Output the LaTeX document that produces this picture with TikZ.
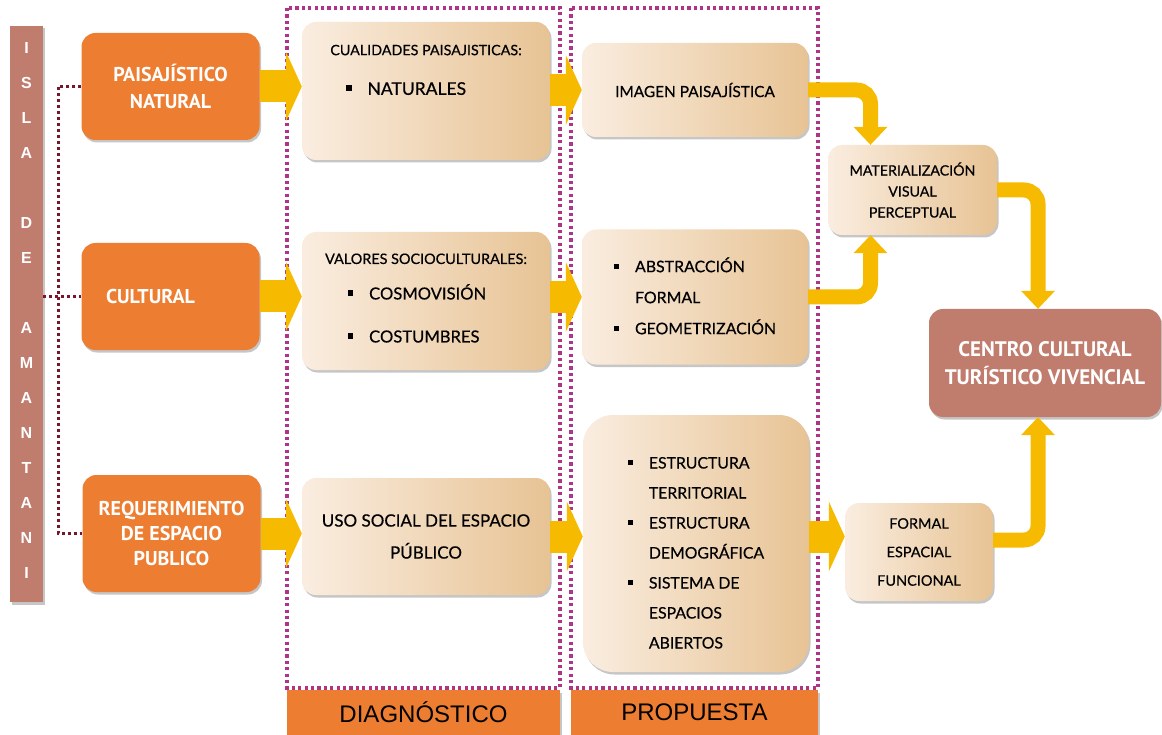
\documentclass[tikz,border=0pt]{standalone}
\usepackage{fontspec}
\setmainfont{Lato}[FakeBold=0.5]
\newfontfamily\gruesa{PT Sans}
\newfontfamily\rotulo{Liberation Sans}
\usetikzlibrary{arrows.meta,shadows}
\definecolor{naranja}{RGB}{237,125,49}
\definecolor{terracota}{RGB}{192,124,108}
\definecolor{beigeL}{RGB}{250,237,224}
\definecolor{beigeR}{RGB}{231,195,148}
\definecolor{oro}{RGB}{246,186,0}
\definecolor{marcocol}{RGB}{176,52,134}
\definecolor{vino}{RGB}{122,22,44}
\newcommand{\cuadro}{\rule[0.22em]{0.32em}{0.32em}}
\begin{document}
\begin{tikzpicture}[x=1pt,y=-1pt,
        sombra/.style={drop shadow={shadow xshift=1.5pt,shadow yshift=-2.5pt,opacity=0.45}},
        caja/.style={rectangle,rounded corners=14pt,left color=beigeL,right color=beigeR,
          sombra,inner sep=0pt,align=center,text=black},
        tema/.style={rectangle,rounded corners=14pt,fill=naranja,sombra,inner sep=0pt,
          align=center,text=white,minimum width=178pt,
          font=\gruesa\bfseries\fontsize{20}{27}\selectfont},
        etiqueta/.style={rectangle,fill=naranja,sombra,inner sep=0pt,text=black,
          font=\rotulo\fontsize{24}{28}\selectfont},
        letra/.style={text=white,font=\rotulo\bfseries\fontsize{16}{18}\selectfont},
        marco/.style={draw=marcocol,line width=3.2pt,dash pattern=on 3.2pt off 3.2pt},
        enlace/.style={draw=vino,line width=3pt,dash pattern=on 3pt off 3pt},
        flecha/.style={draw=oro,line width=32pt,-{Triangle[width=70pt,length=16pt,line width=0pt]}},
        codo/.style={draw=oro,line width=15pt,rounded corners=14pt,
          -{Triangle[width=34pt,length=18pt,line width=0pt]}}]
  \useasboundingbox (0,0) rectangle (1162,735);

  \draw[marco] (287,8) rectangle (560,688);
  \draw[marco] (571,8) rectangle (818,688);
  \node[etiqueta,minimum width=273pt,minimum height=45pt] (diag) at (423.5,712.5) {DIAGNÓSTICO};
  \node[etiqueta,minimum width=247pt,minimum height=45pt] (prop) at (694.5,712.5) {PROPUESTA};

  \node[rectangle,fill=terracota,sombra,minimum width=33pt,minimum height=576pt,inner sep=0pt]
    (isla) at (26.5,314) {};
  \foreach \ch [count=\i] in {I,S,L,A,{},D,E,{},A,M,A,N,T,A,N,I}
    \node[letra] (l\i) at (26.5,{48+(\i-1)*35}) {\ch};

  \node[tema,minimum height=107pt] (paisaj) at (170.5,86.5) {PAISAJÍSTICO\\NATURAL};
  \node[tema,minimum height=107pt] (cultural) at (170.5,296.5) {CULTURAL\hspace*{40pt}};
  \node[tema,minimum height=117pt,font=\gruesa\bfseries\fontsize{20}{25}\selectfont]
    (reqesp) at (171.5,533.5) {REQUERIMIENTO\\DE ESPACIO\\PUBLICO};

  \coordinate (junta) at (58,297);
  \draw[enlace] (isla.east |- cultural.west) -- (cultural.west);
  \draw[enlace] (paisaj.west) -| (junta) |- (reqesp.west);

  \node[caja,minimum width=248pt,minimum height=138pt,font=\fontsize{17.5}{20}\selectfont]
    (cualid) at (426,91)
    {{\fontsize{14.3}{17}\selectfont CUALIDADES PAISAJISTICAS:}\\[20pt]
     \begin{tabular}{@{}l@{\hspace{16pt}}l@{\hspace{40pt}}}
       \cuadro & NATURALES
     \end{tabular}\\[22pt]};
  \node[caja,minimum width=248pt,minimum height=138pt,font=\fontsize{16.6}{20}\selectfont]
    (valores) at (426,301)
    {{\fontsize{14.4}{17}\selectfont VALORES SOCIOCULTURALES:}\\[19pt]
     \begin{tabular}{@{}l@{\hspace{16pt}}l@{\hspace{18pt}}}
       \cuadro & COSMOVISIÓN\\[23pt]
       \cuadro & COSTUMBRES
     \end{tabular}};
  \node[caja,minimum width=248pt,minimum height=117pt,font=\fontsize{17}{32}\selectfont]
    (usosoc) at (426,536.5) {USO SOCIAL DEL ESPACIO\\PÚBLICO};

  \node[caja,minimum width=226pt,minimum height=94pt,font=\fontsize{15.4}{18}\selectfont]
    (imagen) at (695,90) {IMAGEN PAISAJÍSTICA};
  \node[caja,minimum width=226pt,minimum height=135pt,font=\fontsize{15.9}{31}\selectfont]
    (abstr) at (695,297)
    {\begin{tabular}{@{}l@{\hspace{16pt}}l@{}}
       \cuadro & ABSTRACCIÓN\\
               & FORMAL\\
       \cuadro & GEOMETRIZACIÓN
     \end{tabular}};
  \node[caja,rounded corners=30pt,minimum width=226pt,minimum height=257pt,
    font=\fontsize{15.8}{30}\selectfont] (estruc) at (696,543.5)
    {\begin{tabular}{@{}l@{\hspace{16pt}}l@{}}
       \multicolumn{2}{l}{}\\[-12pt]
       \cuadro & ESTRUCTURA\\
               & TERRITORIAL\\
       \cuadro & ESTRUCTURA\\
               & DEMOGRÁFICA\\
       \cuadro & SISTEMA DE\\
               & ESPACIOS\\
               & ABIERTOS
     \end{tabular}};

  \node[caja,minimum width=169pt,minimum height=90pt,font=\fontsize{14.2}{21}\selectfont]
    (materia) at (912.5,190) {MATERIALIZACIÓN\\VISUAL\\PERCEPTUAL};
  \node[caja,minimum width=148pt,minimum height=98pt,font=\fontsize{14.5}{28.5}\selectfont]
    (formal) at (919,552) {FORMAL\\ESPACIAL\\FUNCIONAL};
  \node[rectangle,rounded corners=14pt,fill=terracota,sombra,minimum width=232pt,
    minimum height=108pt,inner sep=0pt,align=center,text=white,
    font=\gruesa\bfseries\fontsize{21}{28}\selectfont]
    (centro) at (1045,363) {CENTRO CULTURAL\\TURÍSTICO VIVENCIAL};

  \draw[flecha] (paisaj.east) -- (paisaj.east -| cualid.west);
  \draw[flecha] (cultural.east) -- (cultural.east -| valores.west);
  \draw[flecha] (reqesp.east) -- (reqesp.east -| usosoc.west);
  \draw[flecha] (cualid.east |- imagen.west) -- (imagen.west);
  \draw[flecha] (valores.east |- abstr.west) -- (abstr.west);
  \draw[flecha] (usosoc.east) -- (usosoc.east -| estruc.west);
  \draw[flecha] (usosoc.east -| estruc.east) -- (usosoc.east -| formal.west);

  \draw[codo] (imagen.east) -| ([xshift=-42pt]materia.north);
  \draw[codo] (abstr.east) -| ([xshift=-42pt]materia.south);
  \draw[codo] (materia.east) -| ([xshift=-7pt]centro.north);
  \draw[codo] ([yshift=12pt]formal.east) -| ([xshift=-7pt]centro.south);
\end{tikzpicture}
\end{document}
